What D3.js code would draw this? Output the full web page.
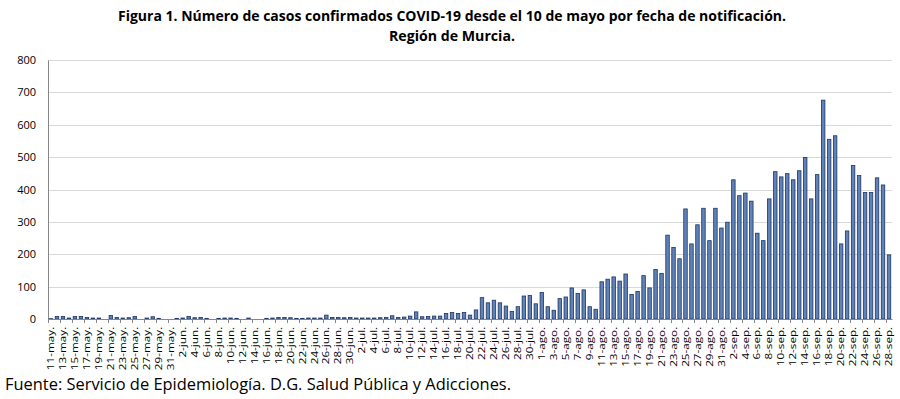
<!DOCTYPE html>
<html lang="es">
  <head>
    <meta charset="utf-8">
    <title>Casos COVID-19 Región de Murcia</title>
    <script src="https://cdn.jsdelivr.net/npm/d3@7"></script>
    <style>
      body { margin: 0; background: #fff; }
      .chart text { font-family: "Open Sans", "Liberation Sans", sans-serif; fill: #000; }
      .grid line { stroke: #d9d9d9; stroke-width: 1; }
      .bar { fill: #5f82b8; stroke: #1f3560; stroke-width: 0.8; }
    </style>
  </head>
  <body>
    <svg class="chart"></svg>
    <script>
    // casos por día, 11-may a 28-sep
    var startDate = new Date(2020, 4, 11), endDate = new Date(2020, 8, 28);
    var monthNames = ["ene", "feb", "mar", "abr", "may", "jun", "jul", "ago", "sep", "oct", "nov", "dic"];

    var casesMay = [1, 8, 8, 3, 8, 8, 5, 3, 3, 0, 11, 5, 3, 4, 8, 0, 3, 7, 2, 0, 0];
    var casesJun = [2, 3, 8, 4, 5, 2, 0, 2, 3, 3, 2, 0, 3, 0, 0, 2, 3, 5, 5, 4,
                    2, 2, 3, 3, 3, 12, 5, 5, 4, 5];
    var casesJul = [3, 3, 3, 3, 4, 5, 10, 5, 6, 9, 22, 7, 8, 9, 9, 17, 20, 17, 20, 12,
                    28, 66, 50, 58, 50, 40, 23, 38, 71, 73, 47];
    var casesAgo = [82, 38, 27, 63, 68, 96, 79, 90, 38, 30, 115, 123, 130, 117, 139, 76, 85, 134, 96, 153,
                    141, 259, 221, 186, 340, 232, 291, 342, 242, 342, 281];
    var casesSep = [299, 430, 381, 389, 364, 265, 242, 371, 455, 439, 449, 430, 458, 499, 371, 446, 676, 555, 566, 232,
                    272, 474, 443, 391, 391, 436, 414, 198];

    var yTicks = [0, 100, 200, 300, 400, 500, 600, 700, 800];

    var values = casesMay.concat(casesJun, casesJul, casesAgo, casesSep);
    var fmtDay = function(d) { return d.getDate() + "-" + monthNames[d.getMonth()] + "."; };
    var categories = d3.timeDay.range(startDate, d3.timeDay.offset(endDate, 1)).map(fmtDay);
    var data = categories.map(function(c, i) { return {label: c, value: values[i]}; });
    var tickLabels = categories.filter(function(c, i) { return i % 2 === 0; });

    var W = 900, H = 399;
    var margin = {top: 60, right: 8, bottom: 80, left: 48};
    var width = W - margin.left - margin.right,
        height = 319 - margin.top;

    var svg = d3.select(".chart").attr("width", W).attr("height", H);

    svg.append("text")
        .attr("x", 452).attr("y", 21)
        .attr("text-anchor", "middle")
        .attr("textLength", 668).attr("lengthAdjust", "spacingAndGlyphs")
        .style("font-size", "14px").style("font-weight", "bold")
        .text("Figura 1. Número de casos confirmados COVID-19 desde el 10 de mayo por fecha de notificación.");
    svg.append("text")
        .attr("x", 452).attr("y", 41)
        .attr("text-anchor", "middle")
        .attr("textLength", 126).attr("lengthAdjust", "spacingAndGlyphs")
        .style("font-size", "14px").style("font-weight", "bold")
        .text("Región de Murcia.");

    var chart = svg.append("g")
        .attr("transform", "translate(" + margin.left + "," + margin.top + ")");

    var x = d3.scaleBand().domain(categories).range([0, width]).paddingInner(0.42).paddingOuter(0.21);
    var y = d3.scaleLinear().domain([0, 800]).range([height, 0]);

    chart.append("g")
        .attr("class", "grid")
        .selectAll("line")
        .data(yTicks.slice(1))
        .enter().append("line")
          .attr("x1", 0).attr("x2", width)
          .attr("y1", function(d) { return Math.round(y(d)) + 0.5; })
          .attr("y2", function(d) { return Math.round(y(d)) + 0.5; });

    var yAxis = d3.axisLeft(y).tickValues(yTicks).tickSize(0).tickPadding(12);
    var gy = chart.append("g").attr("class", "y axis").call(yAxis);
    gy.select(".domain").attr("stroke", "#868686");
    gy.selectAll("text").style("font-size", "11px");

    chart.selectAll(".bar")
        .data(data)
        .enter().append("rect")
          .attr("class", "bar")
          .attr("x", function(d) { return x(d.label); })
          .attr("y", function(d) { return y(d.value); })
          .attr("width", x.bandwidth())
          .attr("height", function(d) { return height - y(d.value); });

    // eje x: marcas cada dos categorías
    var step = x.step();
    var xAxis = d3.axisBottom(x).tickValues(tickLabels).tickSize(0).tickPadding(4);
    var gx = chart.append("g")
        .attr("class", "x axis")
        .attr("transform", "translate(0," + height + ")")
        .call(xAxis);
    gx.select(".domain").attr("stroke", "#868686");
    gx.selectAll("text")
        .style("font-size", "9px")
        .attr("transform", "rotate(-90) scale(1.3,1)")
        .attr("text-anchor", "end")
        .attr("x", -6).attr("y", 0).attr("dy", "0.35em");

    gx.selectAll(".tick-mark")
        .data(tickLabels)
        .enter().append("line")
          .attr("class", "tick-mark")
          .attr("stroke", "#868686")
          .attr("x1", function(d) { return Math.round(x(d) - (step - x.bandwidth()) / 2) + 0.5; })
          .attr("x2", function(d) { return Math.round(x(d) - (step - x.bandwidth()) / 2) + 0.5; })
          .attr("y1", 0).attr("y2", 4);

    svg.append("text")
        .attr("x", 5).attr("y", 390)
        .attr("textLength", 506).attr("lengthAdjust", "spacingAndGlyphs")
        .style("font-size", "16px")
        .text("Fuente: Servicio de Epidemiología. D.G. Salud Pública y Adicciones.");
    </script>
  </body>
</html>
